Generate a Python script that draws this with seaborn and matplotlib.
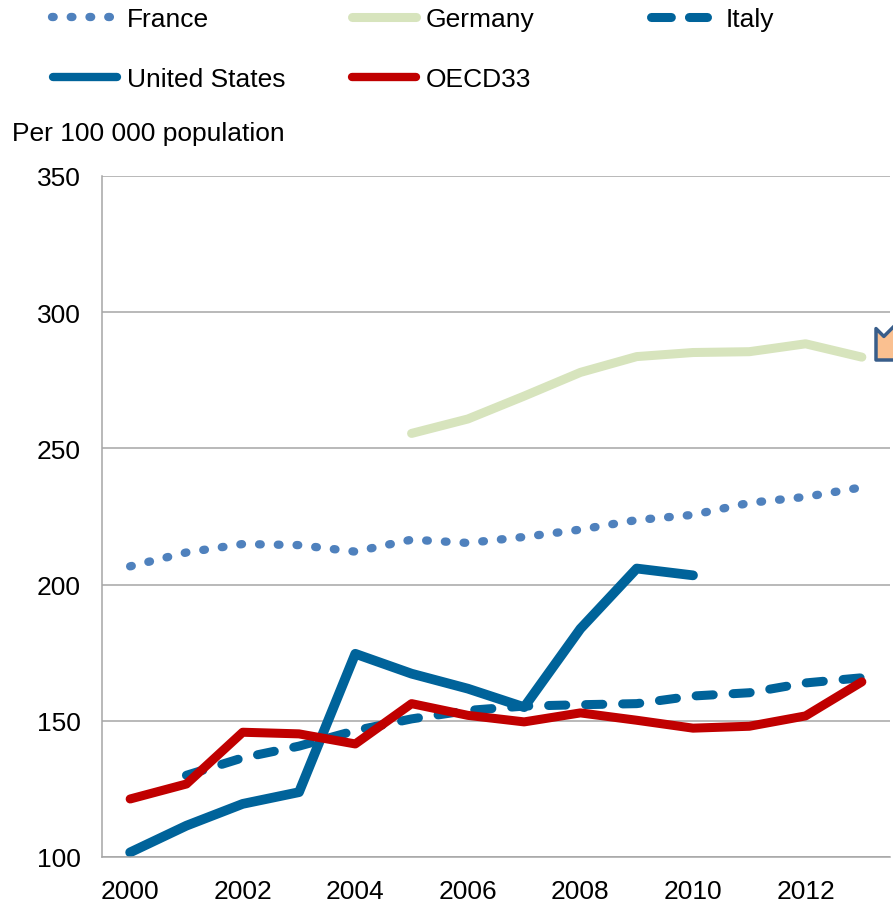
import numpy as np
import matplotlib
matplotlib.use("Agg")
import matplotlib.pyplot as plt
from matplotlib.lines import Line2D
import seaborn as sns

# ── Data ──────────────────────────────────────────────────────────────────────
years = list(range(2000, 2014))
france = [206.7, 211.8, 214.9, 214.5, 212.1, 216.5, 215.3, 217.5, 220.2, 223.7,
          225.6, 230.0, 232.2, 235.7]

germany_years = list(range(2005, 2014))
germany = [255.5, 260.8, 269.2, 277.9, 283.7, 285.2, 285.5, 288.4, 283.5]

italy_years = list(range(2001, 2014))
italy = [130.0, 136.4, 140.7, 146.4, 150.7, 153.8, 155.4, 155.9, 156.3, 159.1,
         160.3, 163.9, 165.8]

us_years = list(range(2000, 2011))
us = [101.7, 111.5, 119.5, 123.8, 174.6, 167.3, 161.8, 155.0, 183.8, 205.9, 203.4]

oecd = [121.3, 126.8, 145.8, 145.2, 141.5, 156.3, 152.0, 149.6, 152.9, 150.2,
        147.3, 148.0, 151.8, 164.3]

y_ticks = [100, 150, 200, 250, 300, 350]
x_labels = [2000, 2002, 2004, 2006, 2008, 2010, 2012]

# ── Style ─────────────────────────────────────────────────────────────────────
sns.set_style("white")
plt.rcParams['font.family'] = ['Liberation Sans', 'DejaVu Sans']
plt.rcParams['text.color'] = 'black'
plt.rcParams['xtick.labelcolor'] = 'black'
plt.rcParams['ytick.labelcolor'] = 'black'

GREY = '#A6A6A6'
C_FRANCE = '#4F81BD'
C_GERMANY = '#D7E4BD'
C_ITALY = '#00639A'
C_US = '#00639A'
C_OECD = '#C00000'
FS = 19
DOTS = (0, (0.2, 2.05))

W, H = 893, 903
fig = plt.figure(figsize=(W / 100, H / 100), dpi=100)
ax = fig.add_axes([102 / W, (H - 858) / H, 788 / W, (858 - 177) / H])

line_kw = dict(ax=ax, errorbar=None, clip_on=False,
               solid_capstyle='round', dash_capstyle='round')

sns.lineplot(x=years, y=france, color=C_FRANCE, linewidth=6.0,
             linestyle=DOTS, **line_kw)
sns.lineplot(x=germany_years, y=germany, color=C_GERMANY, linewidth=6.5, **line_kw)
sns.lineplot(x=italy_years, y=italy, color=C_ITALY, linewidth=6.5,
             linestyle=(0, (1.9, 2.2)), **line_kw)
sns.lineplot(x=us_years, y=us, color=C_US, linewidth=7.0, **line_kw)
sns.lineplot(x=years, y=oecd, color=C_OECD, linewidth=6.5, **line_kw)

# ── Axes ──────────────────────────────────────────────────────────────────────
ax.set_xlim(1999.5, 2013.5)
ax.set_ylim(100, 350)
ax.set_xlabel('')
ax.set_ylabel('')

ax.set_yticks(y_ticks)
ax.set_yticklabels([str(v) for v in y_ticks], fontsize=FS)
ax.tick_params(axis='y', length=5.5, width=1.1, color=GREY, pad=10, direction='out')

ax.set_xticks(x_labels)
ax.set_xticklabels([str(v) for v in x_labels], fontsize=FS)
ax.set_xticks(np.arange(1999.5, 2014, 1), minor=True)
ax.tick_params(axis='x', which='major', length=0, pad=16)
ax.tick_params(axis='x', which='minor', length=6, width=1.1, color=GREY, direction='out')

ax.yaxis.grid(True, color=GREY, linewidth=1.1)
ax.xaxis.grid(False)
ax.set_axisbelow(True)
for s in ['top', 'right']:
    ax.spines[s].set_visible(False)
for s in ['left', 'bottom']:
    ax.spines[s].set_color(GREY)
    ax.spines[s].set_linewidth(1.1)

# ── Legend (placed like the original) ─────────────────────────────────────────
def fx(px):
    return px / W

def fy(py):
    return 1 - py / H

legend_items = [
    ('France', C_FRANCE, 6.0, DOTS, 52, 112, 18, 127),
    ('Germany', C_GERMANY, 6.5, '-', 352, 416, 18, 426),
    ('Italy', C_ITALY, 6.5, (0, (2.2, 2.0)), 651, 707, 18, 726),
    ('United States', C_US, 6.0, '-', 53, 117, 78, 127),
    ('OECD33', C_OECD, 6.0, '-', 352, 416, 78, 426),
]
for label, col, lw, ls, x0, x1, yc, tx in legend_items:
    fig.add_artist(Line2D([fx(x0), fx(x1)], [fy(yc), fy(yc)], transform=fig.transFigure,
                          color=col, linewidth=lw, linestyle=ls,
                          solid_capstyle='round', dash_capstyle='round'))
    fig.text(fx(tx), fy(yc + 9), label, fontsize=FS, ha='left', va='baseline')

fig.text(fx(12), fy(141), 'Per 100 000 population', fontsize=FS, ha='left', va='baseline')

# Call-out arrow at the right edge (partly off canvas in the original)
ax.annotate('', xy=(876, H - 361), xycoords='figure pixels',
            xytext=(960, H - 277), textcoords='figure pixels',
            arrowprops=dict(arrowstyle='simple,head_length=0.8,head_width=1.6,tail_width=0.8',
                            fc='#FAC090', ec='#385D8A', lw=2.5, mutation_scale=20,
                            shrinkA=0, shrinkB=0))

fig.savefig('out.png', dpi=100)
